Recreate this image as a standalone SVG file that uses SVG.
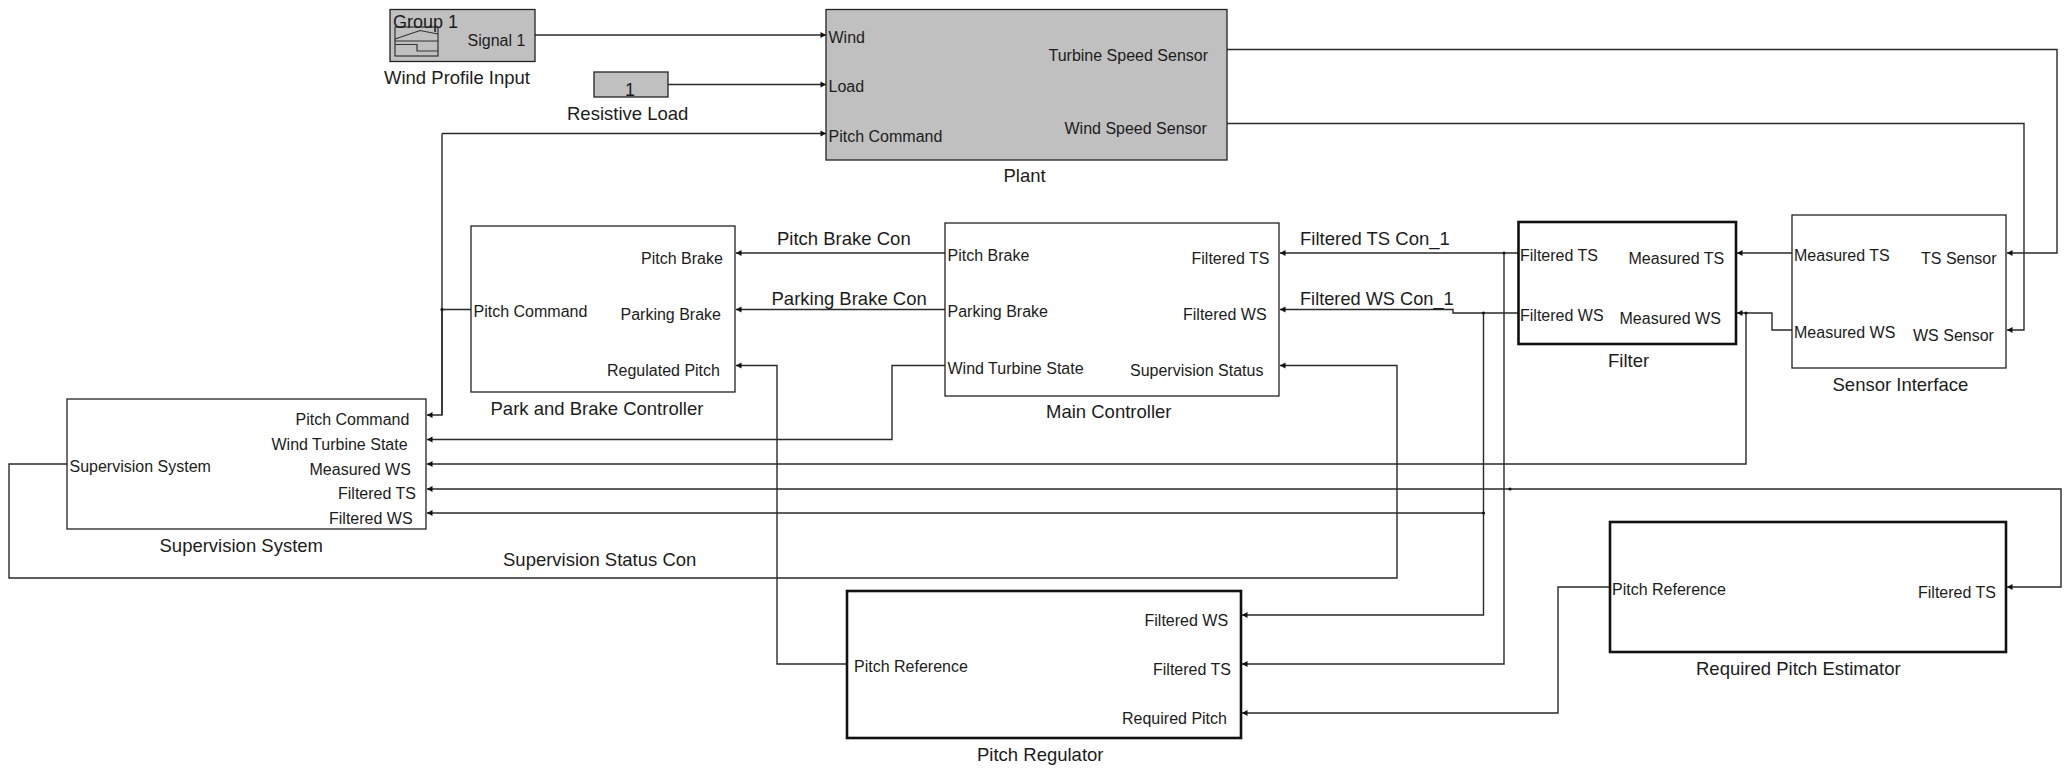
<svg xmlns="http://www.w3.org/2000/svg" width="2069" height="769" viewBox="0 0 2069 769">
<style>
text{font-family:"Liberation Sans",Arial,sans-serif;fill:#1c1c1c}
.p{font-size:16px}
.t{font-size:18.5px}
.b{fill:#fff;stroke:#222;stroke-width:1.3}
.g{fill:#c0c0c0;stroke:#222;stroke-width:1.3}
.h{fill:#fff;stroke:#111;stroke-width:2.6}
.w{fill:none;stroke:#2a2a2a;stroke-width:1.4;marker-end:url(#a)}
.n{fill:none;stroke:#2a2a2a;stroke-width:1.4}
.i{fill:none;stroke:#333;stroke-width:1.2}
.d{fill:#111}
</style>
<defs>
<marker id="a" markerUnits="userSpaceOnUse" markerWidth="7" markerHeight="7" refX="6" refY="3.5" orient="auto"><path d="M0.5 0.5L6 3.5L0.5 6.500Z" fill="#111"/></marker>
</defs>
<g id="connectors">
<path class="w" d="M535 35H826"/>
<path class="w" d="M668 84.500H826"/>
<path class="n" d="M442 415V133.500"/>
<path class="w" d="M442 133.500H826"/>
<path class="w" d="M471 309.500H442V415H427"/>
<path class="w" d="M1227 49.500H2057V253H2007"/>
<path class="w" d="M1227 123.500H2024V330H2007"/>
<path class="w" d="M1792 253H1737"/>
<path class="w" d="M1792 330H1772V313H1737"/>
<path class="w" d="M945 253H736"/>
<path class="w" d="M945 309.500H736"/>
<path class="w" d="M945 365.500H892V439.500H427"/>
<path class="w" d="M1518 253H1280"/>
<path class="w" d="M1518 313H1453V309.500H1280"/>
<path class="w" d="M1504 253V664H1242"/>
<path class="w" d="M1483.500 313V615H1242"/>
<path class="w" d="M1746 313V464H427"/>
<path class="w" d="M1504 489H427"/>
<path class="w" d="M1483.500 513H427"/>
<path class="w" d="M1504 489H2061V587H2007"/>
<path class="w" d="M67 464H9V578H1397V365.500H1280"/>
<path class="w" d="M847 664H777V365.500H736"/>
<path class="w" d="M1609.500 587H1558V713H1242"/>
<circle class="d" cx="442" cy="309.500" r="1.600"/>
<circle class="d" cx="1504" cy="253" r="1.600"/>
<circle class="d" cx="1483.500" cy="313" r="1.600"/>
<circle class="d" cx="1483.500" cy="513" r="1.600"/>
<circle class="d" cx="1510" cy="489" r="1.600"/>
<circle class="d" cx="1746" cy="313" r="1.600"/>
</g>
<g id="wind-profile-input">
<rect class="g" x="390" y="9.500" width="145" height="52"/>
<rect class="i" x="395" y="27" width="43" height="29"/>
<path class="i" d="M395 41H438M395 39L420 30.500L438 34M395 44.500H417V51H438"/>
<text class="t" x="393" y="28" style="font-size:18px">Group 1</text>
<text class="p" x="467.500" y="46">Signal 1</text>
<text class="t" x="384" y="84">Wind Profile Input</text>
</g>
<g id="resistive-load">
<rect class="g" x="594" y="72" width="74" height="25"/>
<text class="t" x="625" y="96" style="font-size:18px">1</text>
<text class="t" x="567" y="120">Resistive Load</text>
</g>
<g id="plant">
<rect class="g" x="826" y="9.500" width="401" height="150.500"/>
<text class="p" x="828.500" y="43">Wind</text>
<text class="p" x="828.500" y="92">Load</text>
<text class="p" x="828.500" y="142">Pitch Command</text>
<text class="p" x="1048.500" y="60.500">Turbine Speed Sensor</text>
<text class="p" x="1064.500" y="134">Wind Speed Sensor</text>
<text class="t" x="1003.500" y="182">Plant</text>
</g>
<g id="park-brake-controller">
<rect class="b" x="471" y="226" width="264" height="166"/>
<text class="p" x="473.500" y="317">Pitch Command</text>
<text class="p" x="641" y="264">Pitch Brake</text>
<text class="p" x="620.500" y="320">Parking Brake</text>
<text class="p" x="607" y="376">Regulated Pitch</text>
<text class="t" x="490.500" y="415">Park and Brake Controller</text>
</g>
<g id="main-controller">
<rect class="b" x="945" y="223" width="334" height="173"/>
<text class="p" x="947.500" y="261">Pitch Brake</text>
<text class="p" x="947.500" y="317">Parking Brake</text>
<text class="p" x="947.500" y="374">Wind Turbine State</text>
<text class="p" x="1191.500" y="264">Filtered TS</text>
<text class="p" x="1183" y="320">Filtered WS</text>
<text class="p" x="1130" y="376">Supervision Status</text>
<text class="t" x="1046" y="418">Main Controller</text>
</g>
<g id="filter">
<rect class="h" x="1518.500" y="222" width="217.500" height="122"/>
<text class="p" x="1520" y="261">Filtered TS</text>
<text class="p" x="1520" y="321">Filtered WS</text>
<text class="p" x="1628.500" y="264">Measured TS</text>
<text class="p" x="1619.500" y="324">Measured WS</text>
<text class="t" x="1608" y="367">Filter</text>
</g>
<g id="sensor-interface">
<rect class="b" x="1792" y="215" width="214" height="153"/>
<text class="p" x="1794" y="261">Measured TS</text>
<text class="p" x="1794" y="338">Measured WS</text>
<text class="p" x="1921" y="264">TS Sensor</text>
<text class="p" x="1913" y="341">WS Sensor</text>
<text class="t" x="1832.500" y="391">Sensor Interface</text>
</g>
<g id="supervision-system">
<rect class="b" x="67" y="399" width="359" height="130"/>
<text class="p" x="69.500" y="472">Supervision System</text>
<text class="p" x="295.500" y="425">Pitch Command</text>
<text class="p" x="271.500" y="450">Wind Turbine State</text>
<text class="p" x="309.500" y="475">Measured WS</text>
<text class="p" x="338" y="499">Filtered TS</text>
<text class="p" x="329" y="524">Filtered WS</text>
<text class="t" x="159.500" y="552">Supervision System</text>
</g>
<g id="pitch-regulator">
<rect class="h" x="847" y="591" width="394" height="147"/>
<text class="p" x="854" y="672">Pitch Reference</text>
<text class="p" x="1144.500" y="626">Filtered WS</text>
<text class="p" x="1153" y="675">Filtered TS</text>
<text class="p" x="1122" y="724">Required Pitch</text>
<text class="t" x="977" y="761">Pitch Regulator</text>
</g>
<g id="required-pitch-estimator">
<rect class="h" x="1610" y="522" width="396" height="130"/>
<text class="p" x="1612" y="595">Pitch Reference</text>
<text class="p" x="1918" y="598">Filtered TS</text>
<text class="t" x="1696" y="675">Required Pitch Estimator</text>
</g>
<g id="connector-labels">
<text class="t" x="777" y="245">Pitch Brake Con</text>
<text class="t" x="771.500" y="305">Parking Brake Con</text>
<text class="t" x="1300" y="245">Filtered TS Con_1</text>
<text class="t" x="1300" y="305" style="font-size:18.2px">Filtered WS Con_1</text>
<text class="t" x="503" y="566">Supervision Status Con</text>
</g>
</svg>
